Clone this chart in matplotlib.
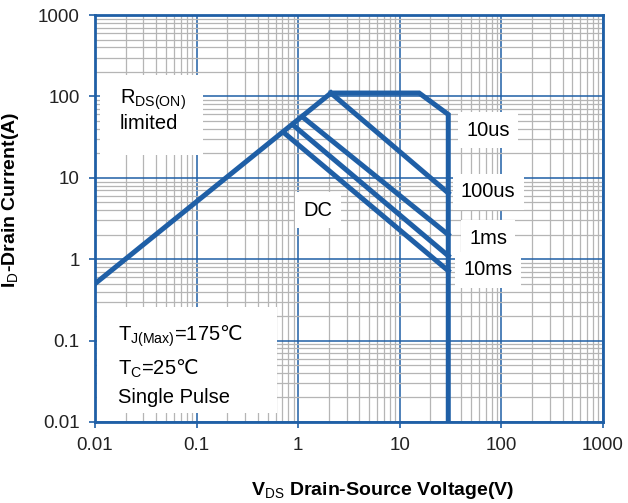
import matplotlib
matplotlib.use("Agg")
import matplotlib.pyplot as plt
from matplotlib.patches import Rectangle
from matplotlib.ticker import LogLocator, FixedLocator, FixedFormatter, NullFormatter

plt.rcParams['font.family'] = ['Liberation Sans', 'DejaVu Sans']
plt.rcParams['mathtext.fontset'] = 'custom'
plt.rcParams['mathtext.rm'] = 'Liberation Sans'
plt.rcParams['mathtext.bf'] = 'Liberation Sans:bold'
plt.rcParams['mathtext.tt'] = 'Noto Sans CJK SC'  # only used for the degree-C sign

BLUE = '#1f5fa6'

# safe operating area boundaries (V, A)
rds_v = [0.01, 2.1]
rds_i = [0.5, 110]

limit_v = [2.1, 15.5, 30, 30]
limit_i = [110, 110, 60, 0.01]

pulse_10us_v = [2.1, 30]
pulse_10us_i = [110, 6.5]
pulse_100us_v = [1.1, 30]
pulse_100us_i = [56, 2.0]
pulse_1ms_v = [0.88, 30]
pulse_1ms_i = [45, 1.1]
pulse_10ms_v = [0.72, 30]
pulse_10ms_i = [36, 0.72]

tick_vals = [0.01, 0.1, 1, 10, 100, 1000]
tick_text = ['0.01', '0.1', '1', '10', '100', '1000']

fig = plt.figure(figsize=(6.28, 5.03), dpi=100)
ax = fig.add_axes([95 / 628, 1 - 422 / 503, 508 / 628, 407 / 503])
ax.set_xscale('log')
ax.set_yscale('log')
ax.set_xlim(0.01, 1000)
ax.set_ylim(0.01, 1000)

for xs, ys in [(rds_v, rds_i), (limit_v, limit_i), (pulse_10us_v, pulse_10us_i),
               (pulse_100us_v, pulse_100us_i), (pulse_1ms_v, pulse_1ms_i),
               (pulse_10ms_v, pulse_10ms_i)]:
    ax.plot(xs, ys, color=BLUE, lw=3.6, solid_joinstyle='miter', zorder=4)

# grid: gray minor, blue major
for axis in (ax.xaxis, ax.yaxis):
    axis.set_major_locator(FixedLocator(tick_vals))
    axis.set_major_formatter(FixedFormatter(tick_text))
    axis.set_minor_locator(LogLocator(base=10, subs=range(2, 10), numticks=20))
    axis.set_minor_formatter(NullFormatter())
ax.grid(which='minor', color='#b5b5b5', lw=0.9, zorder=0)
ax.grid(which='major', color=BLUE, lw=1.1, zorder=0)
ax.set_axisbelow(True)

ax.tick_params(which='major', direction='out', length=4, width=1.2, color=BLUE,
               labelsize=13.5, pad=7, labelcolor='#222222')
ax.tick_params(which='minor', length=0)
for s in ax.spines.values():
    s.set_color(BLUE)
    s.set_linewidth(2)

ax.set_xlabel(r'V$_\mathrm{DS}$ Drain-Source Voltage(V)', fontsize=14, fontweight='bold')
ax.set_ylabel(r'I$_\mathrm{D}$-Drain Current(A)', fontsize=14, fontweight='bold')
ax.xaxis.set_label_coords(0.567, -0.142)
ax.yaxis.set_label_coords(-0.145, 0.545)

# white panels behind the two big notes
ax.add_patch(Rectangle((0.01, 0.656), 0.203, 0.197, transform=ax.transAxes,
                       facecolor='white', edgecolor='none', zorder=2))
ax.add_patch(Rectangle((0.004, 0.022), 0.354, 0.261, transform=ax.transAxes,
                       facecolor='white', edgecolor='none', zorder=2))

deg = '$\\mathtt{\u2103}$'
box = dict(facecolor='white', edgecolor='none', pad=6)
ax.text(0.0176, 68, 'R$_\\mathrm{DS(ON)}$\nlimited', fontsize=14.5, va='center', ha='left',
        linespacing=1.1, zorder=3)
ax.text(1.57, 4.0, 'DC', fontsize=14.5, va='center', ha='center', bbox=box, zorder=3)
for lab, y in [('10us', 38.6), ('100us', 6.7), ('1ms', 1.82), ('10ms', 0.74)]:
    ax.text(74, y, lab, fontsize=14.5, va='center', ha='center', bbox=box, zorder=3)
ax.text(0.0168, 0.05,
        'T$_\\mathrm{J(Max)}$=175' + deg + '\nT$_\\mathrm{C}$=25' + deg + '\nSingle Pulse',
        fontsize=14.5, va='center', ha='left', linespacing=1.5, zorder=3)

fig.savefig('out.png', dpi=100)
